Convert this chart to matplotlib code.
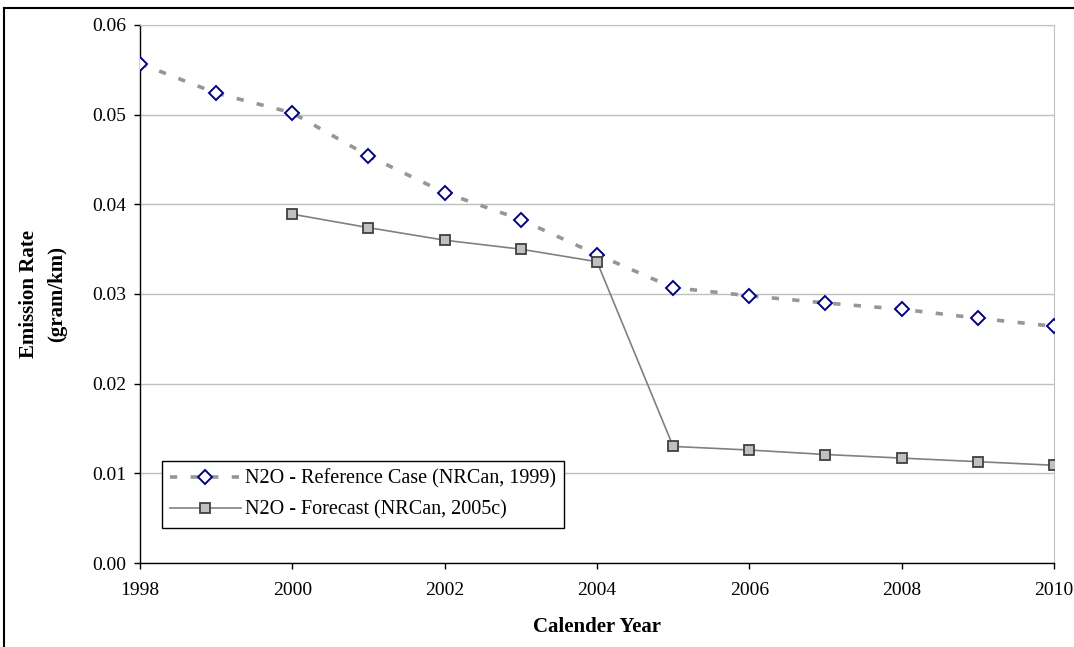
import matplotlib
matplotlib.use("Agg")
import matplotlib.pyplot as plt
from matplotlib.lines import Line2D
from matplotlib.ticker import FormatStrFormatter, MultipleLocator

# values
ref_years = [1998, 1999, 2000, 2001, 2002, 2003, 2004, 2005, 2006, 2007, 2008, 2009, 2010]
ref_rate = [0.0557, 0.0524, 0.0502, 0.0454, 0.0413, 0.0383, 0.0344, 0.0307, 0.0298, 0.0290, 0.0283, 0.0273, 0.0264]

fc_years = [2000, 2001, 2002, 2003, 2004, 2005, 2006, 2007, 2008, 2009, 2010]
fc_rate = [0.0389, 0.0374, 0.0360, 0.0350, 0.0336, 0.0130, 0.0126, 0.0121, 0.0117, 0.0113, 0.0109]

ref_label = "N2O - Reference Case (NRCan, 1999)"
fc_label = "N2O - Forecast (NRCan, 2005c)"

plt.rcParams['font.family'] = ['Liberation Serif', 'DejaVu Serif']

W, H = 1074, 647
fig = plt.figure(figsize=(W / 100, H / 100), dpi=100)
ax = fig.add_axes([140 / W, 1 - 563 / H, 914 / W, 538 / H])

ax.plot(ref_years, ref_rate, color='#969696', lw=2.6, dashes=(2.0, 3.7),
        marker='D', markersize=7, markerfacecolor='white',
        markeredgecolor='#000080', markeredgewidth=1.4, label=ref_label, zorder=3)
ax.plot(fc_years, fc_rate, color='#808080', lw=1.2,
        marker='s', markersize=7, markerfacecolor='#c0c0c0',
        markeredgecolor='#404040', markeredgewidth=1.3, label=fc_label, zorder=3)

ax.set_xlim(1998, 2010)
ax.set_ylim(0, 0.06)
ax.xaxis.set_major_locator(MultipleLocator(2))
ax.yaxis.set_major_locator(MultipleLocator(0.01))
ax.yaxis.set_major_formatter(FormatStrFormatter('%.2f'))
ax.grid(axis='y', color='#c0c0c0', lw=1.0)
ax.set_axisbelow(True)

for side in ('top', 'right'):
    ax.spines[side].set_color('#c0c0c0')
for side in ('left', 'bottom'):
    ax.spines[side].set_color('black')
    ax.spines[side].set_linewidth(1.0)

ax.tick_params(direction='out', length=4, width=1, labelsize=14, colors='black')
ax.tick_params(axis='x', pad=10)
ax.tick_params(axis='y', pad=6)

# axis titles placed like the original
fig.text(597 / W, 1 - 627 / H, "Calender Year", fontsize=15, fontweight='bold',
         ha='center', va='center')
fig.text(43 / W, 1 - 294 / H, "Emission Rate\n(gram/km)", fontsize=15, fontweight='bold',
         ha='center', va='center', rotation=90, linespacing=1.55)

leg = ax.legend(loc='lower left', bbox_to_anchor=(22 / 914, 35 / 538), borderaxespad=0,
                fontsize=14.5, frameon=True, fancybox=False, edgecolor='black',
                framealpha=1, borderpad=0.4, handlelength=3.5, handletextpad=0.2,
                labelspacing=0.6, numpoints=1)
leg.get_frame().set_linewidth(1.0)

# outer chart border (cut off at the right and bottom)
fig.add_artist(Line2D([4 / W, 1], [1 - 8 / H, 1 - 8 / H], color='black', lw=1.5,
                      transform=fig.transFigure))
fig.add_artist(Line2D([4 / W, 4 / W], [0, 1 - 8 / H], color='black', lw=1.5,
                      transform=fig.transFigure))

fig.savefig("out.png", dpi=100)
